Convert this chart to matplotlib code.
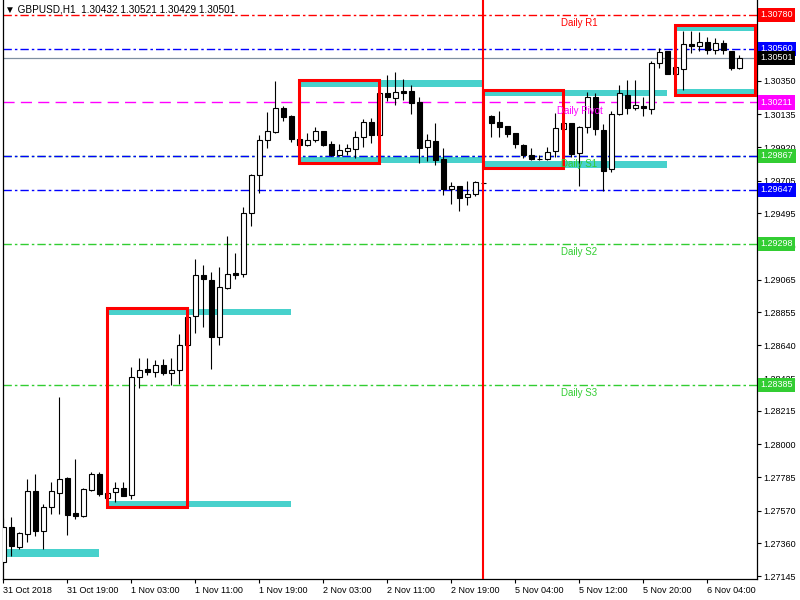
import matplotlib
matplotlib.use("Agg")
import matplotlib.pyplot as plt
import matplotlib.transforms as mtransforms
from matplotlib.patches import Rectangle
import numpy as np

plt.rcParams['font.family'] = ['Liberation Sans', 'DejaVu Sans']

# GBPUSD H1, 31 Oct 11:00 -> 6 Nov 08:00
opens = np.array([
    1.27240, 1.27464, 1.27337, 1.27417, 1.27695, 1.27440, 1.27592, 1.27686, 1.27781, 1.27555,
    1.27537, 1.27706, 1.27805, 1.27655, 1.27689, 1.27717, 1.27669, 1.28438, 1.28485, 1.28470,
    1.28511, 1.28459, 1.28478, 1.28640, 1.28828, 1.29093, 1.29061, 1.28696, 1.29013, 1.29106,
    1.29099, 1.29494, 1.29740, 1.29966, 1.30022, 1.30173, 1.30122, 1.29973, 1.29938, 1.29966,
    1.30025, 1.29940, 1.29873, 1.29899, 1.29912, 1.29986, 1.30083, 1.29999, 1.30270, 1.30238,
    1.30283, 1.30283, 1.30212, 1.29925, 1.29960, 1.29843, 1.29649, 1.29669, 1.29598, 1.29617,
    1.29692, 1.30124, 1.30085, 1.30057, 1.30012, 1.29934, 1.29869, 1.29843, 1.29843, 1.29895,
    1.30037, 1.30076, 1.29882, 1.30050, 1.30245, 1.30031, 1.29779, 1.30135, 1.30257, 1.30173,
    1.30186, 1.30167, 1.30464, 1.30542, 1.30393, 1.30426, 1.30587, 1.30574, 1.30600, 1.30549,
    1.30594, 1.30542, 1.30432])
highs = np.array([
    1.27523, 1.27529, 1.27430, 1.27775, 1.27807, 1.27613, 1.27755, 1.28305, 1.27785, 1.27904,
    1.27717, 1.27818, 1.27818, 1.27690, 1.27754, 1.27754, 1.28502, 1.28558, 1.28558, 1.28545,
    1.28551, 1.28558, 1.28713, 1.28830, 1.29198, 1.29159, 1.29114, 1.29146, 1.29347, 1.29237,
    1.29535, 1.29746, 1.29999, 1.30147, 1.30348, 1.30188, 1.30128, 1.29975, 1.30014, 1.30052,
    1.30028, 1.29962, 1.29940, 1.29940, 1.30026, 1.30102, 1.30111, 1.30272, 1.30391, 1.30408,
    1.30363, 1.30324, 1.30245, 1.30005, 1.30076, 1.29915, 1.29695, 1.29672, 1.29701, 1.29703,
    1.29696, 1.30128, 1.30156, 1.30060, 1.30015, 1.29940, 1.29916, 1.29869, 1.29921, 1.30141,
    1.30091, 1.30080, 1.30057, 1.30279, 1.30272, 1.30070, 1.30154, 1.30322, 1.30354, 1.30354,
    1.30245, 1.30477, 1.30562, 1.30545, 1.30439, 1.30672, 1.30672, 1.30665, 1.30633, 1.30626,
    1.30613, 1.30545, 1.30521])
lows = np.array([
    1.27225, 1.27279, 1.27320, 1.27367, 1.27408, 1.27324, 1.27550, 1.27550, 1.27414, 1.27518,
    1.27530, 1.27699, 1.27667, 1.27652, 1.27628, 1.27667, 1.27644, 1.28362, 1.28450, 1.28433,
    1.28450, 1.28383, 1.28390, 1.28635, 1.28721, 1.28756, 1.28489, 1.28644, 1.29002, 1.29071,
    1.29084, 1.29414, 1.29627, 1.29915, 1.30015, 1.30091, 1.29957, 1.29936, 1.29931, 1.29957,
    1.29931, 1.29867, 1.29867, 1.29873, 1.29854, 1.29925, 1.29951, 1.29997, 1.30219, 1.30193,
    1.30225, 1.30135, 1.29821, 1.29834, 1.29805, 1.29610, 1.29556, 1.29511, 1.29550, 1.29608,
    1.29683, 1.29990, 1.29990, 1.29986, 1.29918, 1.29850, 1.29837, 1.29837, 1.29837, 1.29856,
    1.30026, 1.29856, 1.29673, 1.30015, 1.30000, 1.29640, 1.29763, 1.30128, 1.30135, 1.30160,
    1.30122, 1.30135, 1.30432, 1.30393, 1.30390, 1.30294, 1.30529, 1.30542, 1.30523, 1.30523,
    1.30523, 1.30419, 1.30429])
closes = np.array([
    1.27464, 1.27343, 1.27424, 1.27695, 1.27440, 1.27592, 1.27695, 1.27773, 1.27544, 1.27537,
    1.27710, 1.27805, 1.27680, 1.27682, 1.27715, 1.27667, 1.28433, 1.28478, 1.28469, 1.28511,
    1.28458, 1.28478, 1.28640, 1.28825, 1.29093, 1.29067, 1.28696, 1.29015, 1.29099, 1.29093,
    1.29494, 1.29740, 1.29966, 1.30025, 1.30173, 1.30119, 1.29977, 1.29938, 1.29966, 1.30025,
    1.29938, 1.29873, 1.29902, 1.29915, 1.29986, 1.30083, 1.29999, 1.30270, 1.30245, 1.30277,
    1.30274, 1.30206, 1.29918, 1.29966, 1.29841, 1.29651, 1.29669, 1.29595, 1.29617, 1.29695,
    1.29693, 1.30080, 1.30054, 1.30009, 1.29940, 1.29869, 1.29843, 1.29847, 1.29893, 1.30044,
    1.30076, 1.29876, 1.30050, 1.30245, 1.30037, 1.29770, 1.30135, 1.30270, 1.30173, 1.30193,
    1.30173, 1.30464, 1.30536, 1.30393, 1.30439, 1.30587, 1.30574, 1.30600, 1.30549, 1.30594,
    1.30549, 1.30432, 1.30501])

xtick_pos = [0, 8, 16, 24, 32, 40, 48, 56, 64, 72, 80, 88]
xtick_labels = ["31 Oct 2018", "31 Oct 19:00", "1 Nov 03:00", "1 Nov 11:00", "1 Nov 19:00",
                "2 Nov 03:00", "2 Nov 11:00", "2 Nov 19:00", "5 Nov 04:00", "5 Nov 12:00",
                "5 Nov 20:00", "6 Nov 04:00"]
ytick_vals = [1.30350, 1.30135, 1.29920, 1.29705, 1.29495, 1.29280, 1.29065, 1.28855,
              1.28640, 1.28425, 1.28215, 1.28000, 1.27785, 1.27570, 1.27360, 1.27145]

# zones (cyan) : bar index start/end, price low/high
zone_x0 = [0.4, 13, 13, 37, 37, 60, 60, 84, 84]
zone_x1 = [12, 36, 36, 60, 60, 83, 83, 107, 107]
zone_lo = [1.27270, 1.27596, 1.28836, 1.30313, 1.29821, 1.30255, 1.29789, 1.30675, 1.30261]
zone_hi = [1.27322, 1.27633, 1.28874, 1.30356, 1.29860, 1.30292, 1.29832, 1.30712, 1.30298]

# red boxes
box_x0 = [13, 37, 60, 84]
box_x1 = [23, 47, 70, 94]
box_lo = [1.27596, 1.29821, 1.29789, 1.30259]
box_hi = [1.28879, 1.30356, 1.30292, 1.30712]

# horizontal levels
level_vals = [1.30780, 1.30560, 1.30211, 1.29867, 1.29862, 1.29647, 1.29298, 1.28385]
level_cols = ['#FF0000', '#0000FF', '#FF00FF', '#32CD32', '#0000FF', '#0000FF', '#32CD32', '#32CD32']
level_names = ["Daily R1", "", "Daily Pivot", "Daily S1", "", "", "Daily S2", "Daily S3"]
bid = 1.30501
day_sep = 60

fig = plt.figure(figsize=(8, 6), dpi=100)
ax = fig.add_axes([2.7 / 800, 21 / 600, 754.3 / 800, 579 / 600])

x = np.arange(len(opens))
up = closes >= opens

for a, b, lo, hi in zip(zone_x0, zone_x1, zone_lo, zone_hi):
    ax.add_patch(Rectangle((a, lo), b - a, hi - lo, fc='#48D1CC', ec='none', zorder=1))

for v, c in zip(level_vals, level_cols):
    if c == '#FF00FF':
        ax.axhline(v, color=c, lw=1.0, dashes=(8, 4.5), zorder=2)
    else:
        ax.axhline(v, color=c, lw=1.0, dashes=(6, 2.2, 1.8, 2.2), zorder=2)
ax.axhline(bid, color='#8090A0', lw=0.9, zorder=2)

ax.vlines(x, lows, highs, color='black', lw=0.8, zorder=3)
ax.bar(x, np.abs(closes - opens), bottom=np.minimum(opens, closes), width=0.55,
       color=np.where(up, 'white', 'black'), edgecolor='black', linewidth=0.8, zorder=4)

for a, b, lo, hi in zip(box_x0, box_x1, box_lo, box_hi):
    ax.add_patch(Rectangle((a, lo), b - a, hi - lo, fill=False, ec='#FF0000', lw=2.2, zorder=5))

ax.axvline(day_sep, color='#FF0000', lw=1.5, zorder=5)

# level names
for v, c, n in zip(level_vals, level_cols, level_names):
    if n:
        ax.annotate(n, (72, v), xytext=(0, -2.5), textcoords='offset points',
                    ha='center', va='top', color=c, fontsize=7, zorder=6)

# price boxes on the axis
trans = mtransforms.blended_transform_factory(ax.transAxes, ax.transData)
box_vals = level_vals[:4] + level_vals[5:] + [bid]
box_cols = level_cols[:4] + level_cols[5:] + ['black']
for v, c in zip(box_vals, box_cols):
    ax.text(1.0045, v, f"{v:.5f}", transform=trans, ha='left', va='center', color='white',
            fontsize=6.5, clip_on=False, zorder=10,
            bbox=dict(boxstyle='square,pad=0.28', fc=c, ec='none'))

ax.set_xlim(-0.08, 94.2)
ax.set_ylim(1.27128, 1.30874)

ax.yaxis.tick_right()
ax.set_yticks(ytick_vals)
ax.set_yticklabels([f"{v:.5f}" for v in ytick_vals])
ax.tick_params(axis='y', direction='out', length=3, width=0.8, pad=1.5, labelsize=6.5)
ax.set_xticks(xtick_pos)
ax.set_xticklabels(xtick_labels, ha='left')
ax.tick_params(axis='x', direction='out', length=3, width=0.8, pad=2, labelsize=6.5)

ax.spines['top'].set_visible(False)
for s in ['left', 'bottom', 'right']:
    ax.spines[s].set_linewidth(0.9)

fig.text(5 / 800, 1 - 10 / 600, "\u25bc GBPUSD,H1  1.30432 1.30521 1.30429 1.30501",
         fontsize=7.2, va='center', ha='left')

fig.savefig('out.png', dpi=100)
